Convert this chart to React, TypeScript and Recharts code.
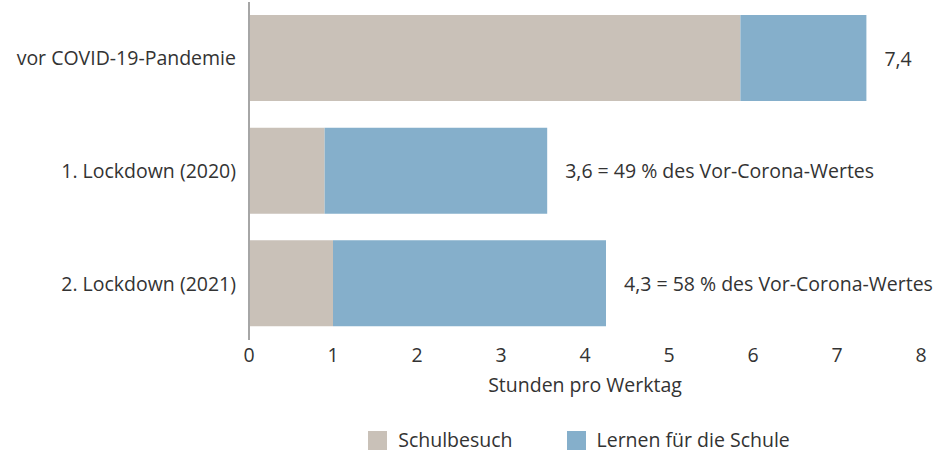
import { Bar, BarChart, LabelList, XAxis, YAxis } from "recharts";

const phases = ["vor COVID-19-Pandemie", "1. Lockdown (2020)", "2. Lockdown (2021)"];
const schulbesuch = [5.85, 0.9, 1.0];
const lernen = [1.5, 2.65, 3.25];
const totalLabels = ["7,4", "3,6 = 49 % des Vor-Corona-Wertes", "4,3 = 58 % des Vor-Corona-Wertes"];
const xTicks = [0, 1, 2, 3, 4, 5, 6, 7, 8];

const BEIGE = "#c9c1b8";
const BLUE = "#85afcb";
const TEXT = "#333333";
const FONT = "'Open Sans', sans-serif";
const FS = 19.5;

const data = phases.map((phase, i) => ({
  phase,
  schulbesuch: schulbesuch[i],
  lernen: lernen[i],
  label: totalLabels[i],
}));

function TotalLabel(props: any) {
  const { x, y, width, height, index } = props;
  return (
    <text
      x={x + width + 18}
      y={y + height / 2}
      dominantBaseline="central"
      fill={TEXT}
      fontSize={FS}
      fontFamily={FONT}
    >
      {totalLabels[index]}
    </text>
  );
}

export default function App() {
  return (
    <div style={{ position: "absolute", left: 0, top: 0, width: 935, height: 453, background: "#fff", fontFamily: FONT }}>
      <BarChart
        width={935}
        height={413}
        data={data}
        layout="vertical"
        margin={{ top: 2, right: 14, bottom: 0, left: 0 }}
        barSize={86}
      >
        <XAxis
          type="number"
          domain={[0, 8]}
          ticks={xTicks}
          axisLine={false}
          tickLine={false}
          height={73}
          tick={{ fill: TEXT, fontSize: FS, fontFamily: FONT }}
          label={{ value: "Stunden pro Werktag", position: "insideBottom", offset: 21, fill: TEXT, fontSize: FS, fontFamily: FONT }}
        />
        <YAxis
          type="category"
          dataKey="phase"
          width={249}
          axisLine={{ stroke: "#a6a6a6", strokeWidth: 2 }}
          tickLine={false}
          tickMargin={7}
          tick={{ fill: TEXT, fontSize: FS, fontFamily: FONT }}
        />
        <Bar dataKey="schulbesuch" stackId="a" fill={BEIGE} isAnimationActive={false} />
        <Bar dataKey="lernen" stackId="a" fill={BLUE} isAnimationActive={false}>
          <LabelList dataKey="label" content={<TotalLabel />} />
        </Bar>
      </BarChart>
      <div
        style={{
          position: "absolute",
          top: 428,
          left: 0,
          width: 935,
          height: 24,
          lineHeight: "24px",
          display: "flex",
          justifyContent: "center",
          paddingLeft: 237,
          paddingRight: 14,
          boxSizing: "border-box",
          gap: 54,
          fontSize: FS,
          color: TEXT,
        }}
      >
        {[
          { name: "Schulbesuch", color: BEIGE },
          { name: "Lernen für die Schule", color: BLUE },
        ].map((item) => (
          <div key={item.name} style={{ display: "flex", alignItems: "center", gap: 11 }}>
            <span style={{ width: 19, height: 19, background: item.color, display: "inline-block" }} />
            <span>{item.name}</span>
          </div>
        ))}
      </div>
    </div>
  );
}
